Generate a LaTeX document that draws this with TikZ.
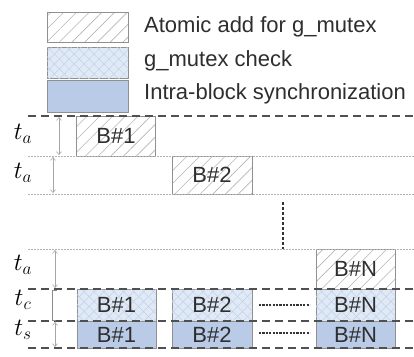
\documentclass[tikz,border=0pt]{standalone}
\usepackage{fontspec}
\setmainfont{Liberation Sans}
\usetikzlibrary{patterns.meta,arrows.meta,calc}
\definecolor{boxline}{HTML}{909090}
\definecolor{hatchc}{HTML}{B4B4B4}
\definecolor{crossfill}{HTML}{E0E9F6}
\definecolor{crossline}{HTML}{C3D1E8}
\definecolor{solidfill}{HTML}{B9CBE6}
\definecolor{txt}{HTML}{2E2E2E}
\definecolor{dashc}{HTML}{505050}
\begin{document}
\begin{tikzpicture}[x=1pt,y=-1pt,
  every node/.style={font=\fontsize{22}{25}\selectfont, text=txt, inner sep=0pt},
  basebox/.style={draw=boxline, line width=0.9pt, minimum width=79pt},
  hatchbox/.style={basebox, pattern={Lines[angle=45,distance=9pt,line width=0.6pt]}, pattern color=hatchc},
  crossbox/.style={basebox, fill=crossfill, postaction={pattern={Hatch[angle=45,distance=7pt,line width=0.5pt]}, pattern color=crossline}},
  solidbox/.style={basebox, fill=solidfill},
  dashline/.style={draw=dashc, line width=1.7pt, dash pattern=on 8pt off 5pt},
  dotline/.style={draw=gray!60, line width=0.8pt, dash pattern=on 1.5pt off 1.5pt},
  darkdots/.style={draw=black!80, line width=1.6pt, dash pattern=on 2.2pt off 1.2pt},
  meas/.style={draw=gray!70, line width=0.6pt, {Straight Barb[length=3pt,width=5pt]}-{Straight Barb[length=3pt,width=5pt]}},
  tlab/.style={font=\fontsize{27}{29}\selectfont, text=black}
]
\useasboundingbox (0,0) rectangle (414,356);

% legend
\node[hatchbox, minimum height=30pt, minimum width=81pt] (lg1) at (87.5,27) {};
\node[crossbox, minimum height=31pt, minimum width=81pt] (lg2) at (87.5,62.5) {};
\node[solidbox, minimum height=32pt, minimum width=81pt] (lg3) at (87.5,96) {};
\node[anchor=west] (lt1) at (144,27) {Atomic add for g\_mutex};
\node[anchor=west] (lt2) at (144,61) {g\_mutex check};
\node[anchor=west] (lt3) at (144,94) {Intra-block synchronization};

% horizontal lines
\coordinate (l1a) at (28,116); \coordinate (l1b) at (414,116);
\coordinate (l2a) at (28,156); \coordinate (l2b) at (414,156);
\coordinate (l3a) at (28,194); \coordinate (l3b) at (414,194);
\coordinate (l4a) at (28,249); \coordinate (l4b) at (414,249);
\coordinate (l5a) at (28,289); \coordinate (l5b) at (414,289);
\coordinate (l6a) at (28,321); \coordinate (l6b) at (414,321);
\coordinate (l7a) at (28,348); \coordinate (l7b) at (414,348);

% boxes
\node[hatchbox, minimum height=40pt] (r1b1) at (116,136) {B\#1};
\node[hatchbox, minimum height=38pt, minimum width=80pt] (r2b2) at (212,175) {B\#2};
\node[hatchbox, minimum height=40pt] (rnbn) at (355.5,269) {B\#N};
\node[crossbox, minimum height=32pt] (c1) at (116.5,305) {B\#1};
\node[crossbox, minimum height=32pt, minimum width=80pt] (c2) at (212,305) {B\#2};
\node[crossbox, minimum height=32pt] (cn) at (355.5,305) {B\#N};
\node[solidbox, minimum height=27pt] (s1) at (116.5,334.5) {B\#1};
\node[solidbox, minimum height=27pt, minimum width=80pt] (s2) at (212,334.5) {B\#2};
\node[solidbox, minimum height=27pt] (sn) at (355.5,334.5) {B\#N};

\draw[dashline] (l1a) -- (l1b);
\draw[dotline] (l2a) -- (l2b);
\draw[dotline] (l3a) -- (l3b);
\draw[dotline] (l4a) -- (l4b);
\draw[dashline] (l5a) -- (l5b);
\draw[dashline] (l6a) -- (l6b);
\draw[dashline] (l7a) -- (l7b);

% vertical ellipsis
\coordinate (v1) at (283,202); \coordinate (v2) at (283,249);
\draw[darkdots, line width=2.6pt, dash pattern=on 3pt off 2pt] (v1) -- (v2);
% horizontal ellipses
\coordinate (h1a) at (259,305); \coordinate (h1b) at (310,305);
\coordinate (h2a) at (259,333); \coordinate (h2b) at (310,333);
\draw[darkdots] (h1a) -- (h1b);
\draw[darkdots] (h2a) -- (h2b);

% measurement arrows
\coordinate (m1a) at (59,117); \coordinate (m1b) at (59,155);
\coordinate (m2a) at (53,157); \coordinate (m2b) at (53,193);
\coordinate (m3a) at (55,250); \coordinate (m3b) at (55,288);
\coordinate (m4a) at (52,290); \coordinate (m4b) at (52,320);
\coordinate (m5a) at (55,322); \coordinate (m5b) at (55,347);
\draw[meas] (m1a) -- (m1b);
\draw[meas] (m2a) -- (m2b);
\draw[meas] (m3a) -- (m3b);
\draw[draw=gray!90, line width=0.8pt] ($(m4a)+(5,0)$) -- (m4a) -- (m4b) -- ($(m4b)+(4,0)$);
\draw[meas] (m5a) -- (m5b);

% time labels
\node[tlab] (ta1) at (23,134) {$t_a$};
\node[tlab] (ta2) at (23,173) {$t_a$};
\node[tlab] (ta3) at (23,265) {$t_a$};
\node[tlab] (tc) at (23,300) {$t_c$};
\node[tlab] (ts) at (23,330) {$t_s$};
\end{tikzpicture}
\end{document}
